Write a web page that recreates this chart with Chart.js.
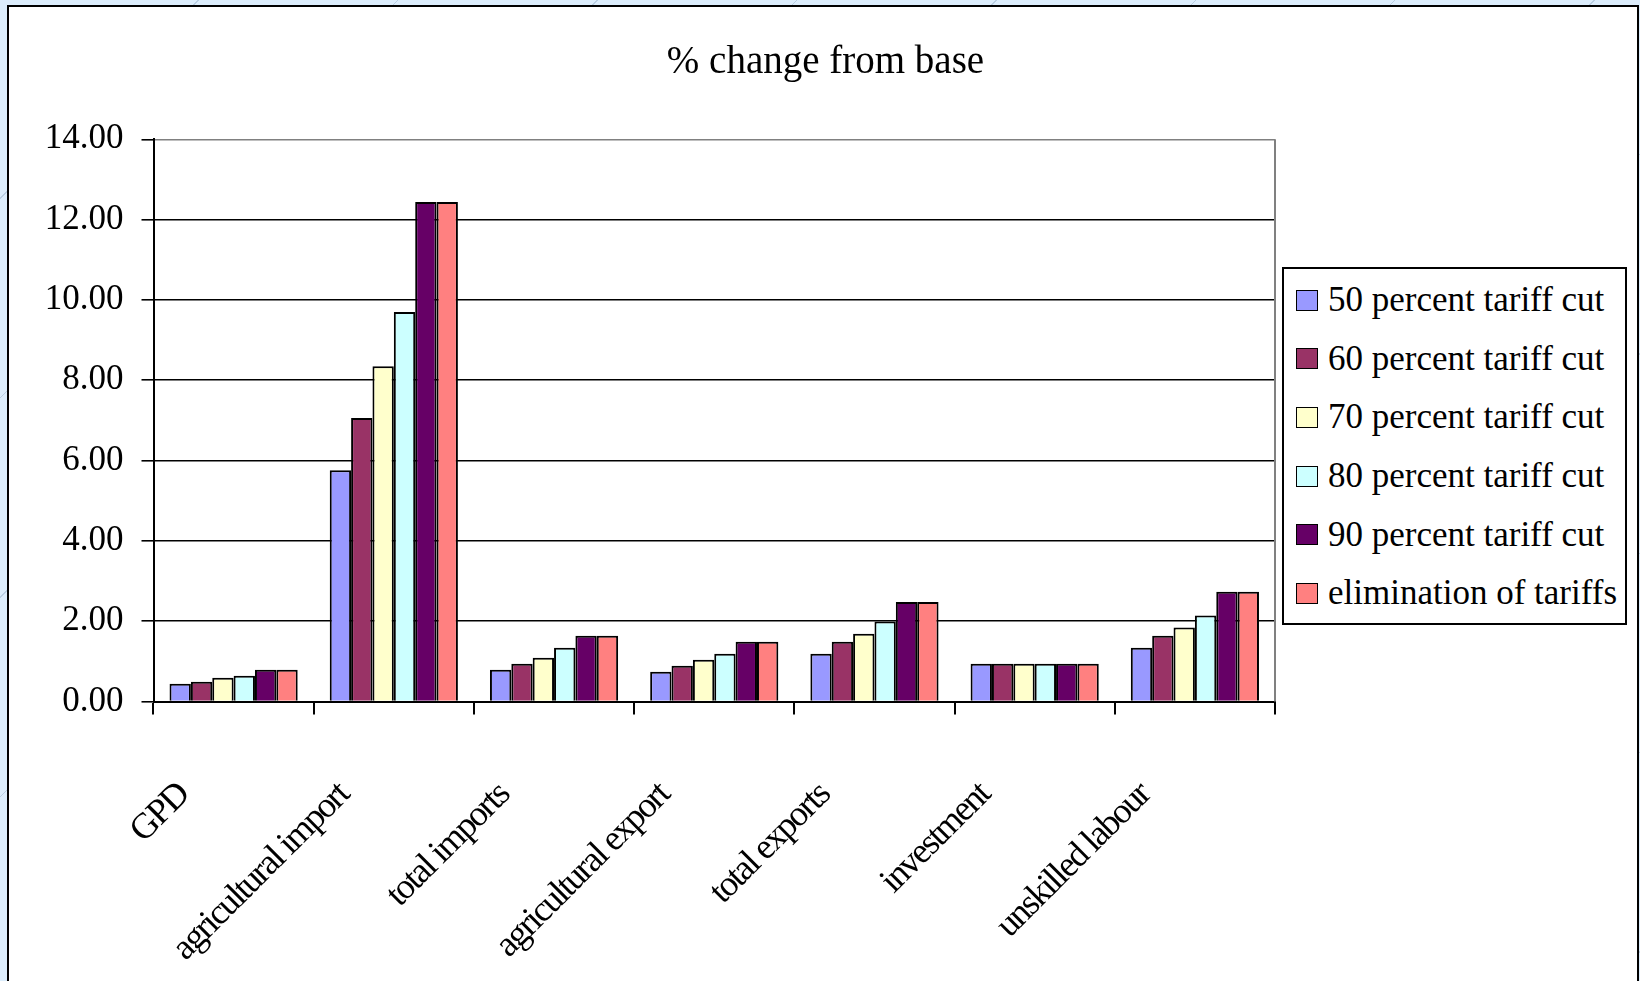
<!DOCTYPE html>
<html>
<head>
<meta charset="utf-8">
<script src="https://cdn.jsdelivr.net/npm/chart.js@4"></script>
<style>
  html, body { margin: 0; padding: 0; }
  body {
    width: 1640px; height: 981px; overflow: hidden; position: relative;
    background-color: #dcedfc;
    background-image: repeating-linear-gradient(135deg, transparent 0, transparent 140px, rgba(150, 175, 200, 0.5) 140px, rgba(150, 175, 200, 0.5) 141px);
  }
  #frame {
    position: absolute; left: 7px; top: 5px; width: 1628px; height: 1000px;
    border: 2px solid #000; background: #fff;
  }
  #wrap { position: absolute; left: 0; top: 0; width: 1640px; height: 981px; }
  #legend {
    position: absolute; left: 1282px; top: 267px; width: 341px; height: 352px;
    border: 2px solid #000; background: #fff;
    font-family: 'Liberation Serif', 'Times New Roman', serif; font-size: 35px; color: #000;
    padding-top: 2px; box-sizing: content-box;
  }
  .item { height: 58.6px; display: flex; align-items: center; padding-left: 12px; white-space: nowrap; }
  .swatch { width: 20px; height: 19px; border: 1.5px solid #000; margin-right: 10px; flex: none; }
</style>
</head>
<body>
<div id="frame"></div>
<div id="wrap"><canvas id="chart"></canvas></div>
<div id="legend"></div>
<script>
const categories = ['GPD', 'agricultural import', 'total imports', 'agricultural export', 'total exports', 'investment', 'unskilled labour'];
const seriesNames = ['50 percent tariff cut', '60 percent tariff cut', '70 percent tariff cut', '80 percent tariff cut', '90 percent tariff cut', 'elimination of tariffs'];

const cut50 = [0.44, 5.76, 0.79, 0.74, 1.19, 0.94, 1.34];
const cut60 = [0.49, 7.06, 0.94, 0.89, 1.49, 0.94, 1.64];
const cut70 = [0.59, 8.35, 1.09, 1.04, 1.69, 0.94, 1.84];
const cut80 = [0.64, 9.70, 1.34, 1.19, 1.99, 0.94, 2.14];
const cut90 = [0.79, 12.44, 1.64, 1.49, 2.48, 0.94, 2.73];
const cutAll = [0.79, 12.44, 1.64, 1.49, 2.48, 0.94, 2.73];

const yMin = 0, yMax = 14, yStep = 2;

const colors = ['#9999ff', '#993366', '#ffffcc', '#ccffff', '#660066', '#ff8080'];
const serif = "'Liberation Serif', 'Times New Roman', serif";

// html legend with the box round it
const legend = document.getElementById('legend');
seriesNames.forEach((name, i) => {
    const row = document.createElement('div');
    row.className = 'item';
    row.innerHTML = '<span class="swatch" style="background:' + colors[i] + '"></span>' + name;
    legend.appendChild(row);
});

// x labels in the picture are squeezed together
const tightLabels = {
    id: 'tightLabels',
    beforeDraw(chart) {
        const sx = chart.scales.x;
        if (sx._tight) return;
        const draw = sx.drawLabels.bind(sx);
        sx.drawLabels = function (area) {
            chart.ctx.save();
            chart.ctx.letterSpacing = '-2px';
            draw(area);
            chart.ctx.restore();
        };
        sx._tight = true;
    },
    afterDraw(chart) {
        // grey right edge of the plot area
        const a = chart.chartArea, ctx = chart.ctx;
        ctx.save();
        ctx.strokeStyle = '#808080';
        ctx.lineWidth = 2;
        ctx.beginPath();
        ctx.moveTo(a.right, a.top);
        ctx.lineTo(a.right, a.bottom);
        ctx.stroke();
        ctx.restore();
    }
};

const series = [cut50, cut60, cut70, cut80, cut90, cutAll];

new Chart(document.getElementById('chart'), {
    type: 'bar',
    data: {
        labels: categories,
        datasets: series.map((values, i) => ({
            label: seriesNames[i],
            data: values,
            backgroundColor: colors[i],
            borderColor: '#000',
            borderWidth: 2,
            categoryPercentage: 0.8,
            barPercentage: 1.0
        }))
    },
    options: {
        responsive: true,
        maintainAspectRatio: false,
        animation: false,
        layout: { padding: { left: 11 } },
        plugins: {
            legend: { display: false },
            tooltip: { enabled: false },
            title: {
                display: true,
                text: '% change from base',
                color: '#000',
                font: { family: serif, size: 39, weight: 'normal' },
                padding: { top: 39, bottom: 53.5 }
            }
        },
        scales: {
            x: {
                grid: { drawOnChartArea: false, color: '#000', lineWidth: 2, tickLength: 13 },
                border: { color: '#000', width: 2 },
                ticks: {
                    color: '#000',
                    font: { family: serif, size: 36 },
                    minRotation: 45,
                    maxRotation: 45,
                    autoSkip: false,
                    labelOffset: -50,
                    padding: 60
                },
                afterFit: s => { s.height = 279.5; }
            },
            y: {
                min: yMin,
                max: yMax,
                grid: {
                    color: c => (c.tick && c.tick.value === yMax ? '#808080' : '#000'),
                    tickColor: '#000',
                    lineWidth: 1.6,
                    tickLength: 12
                },
                border: { color: '#000', width: 2 },
                ticks: {
                    stepSize: yStep,
                    color: '#000',
                    padding: 18,
                    font: { family: serif, size: 35 },
                    callback: v => v.toFixed(2)
                },
                afterFit: s => { s.width = 142.5; }
            },
            // empty axis only to keep room for the legend on the right
            side: {
                position: 'right',
                axis: 'y',
                grid: { display: false },
                border: { display: false },
                ticks: { display: false },
                afterFit: s => { s.width = 365; }
            }
        }
    },
    plugins: [tightLabels]
});
</script>
</body>
</html>
